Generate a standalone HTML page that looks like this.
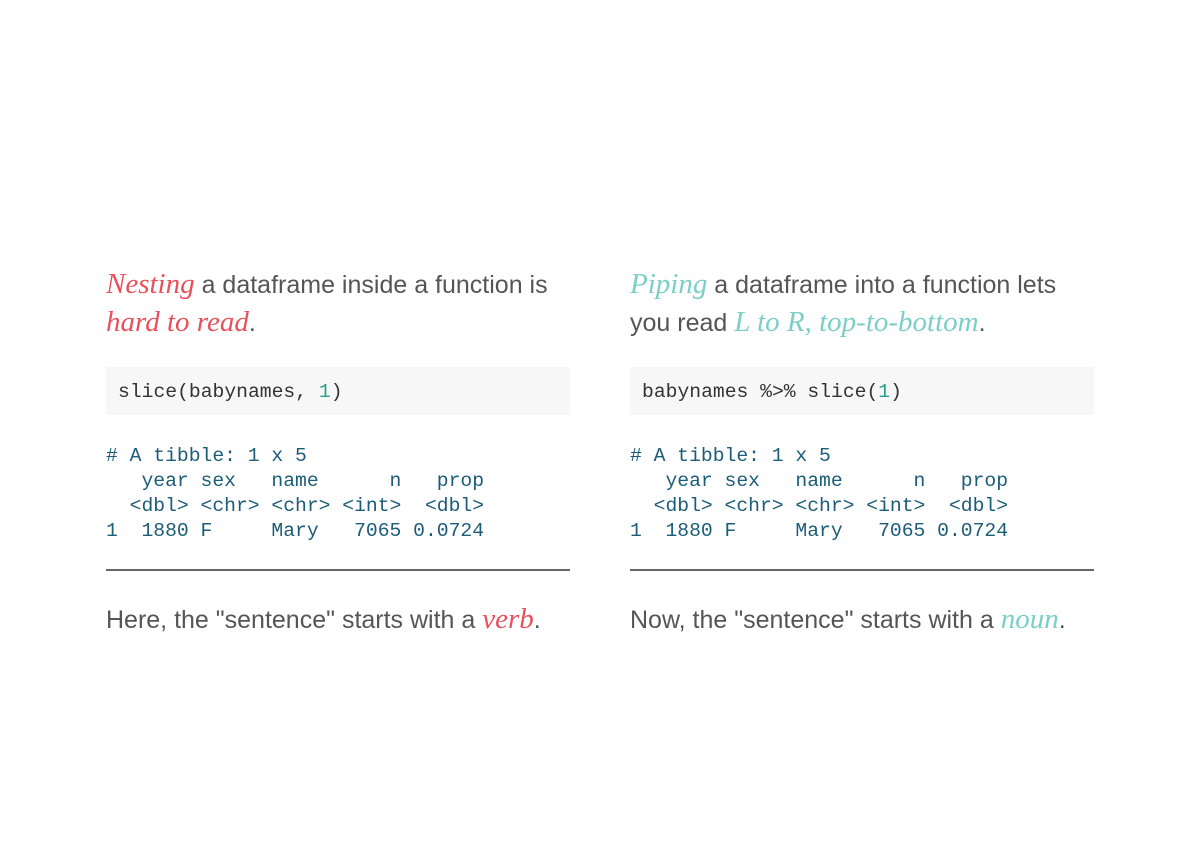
<!DOCTYPE html>
<html><head><meta charset="utf-8"><style>
body{margin:0;width:1200px;height:856px;background:#fff;position:relative;overflow:hidden;font-family:"Liberation Sans",sans-serif;}
.col{position:absolute;top:0;width:464px;}
.t{position:absolute;left:0;font-size:25px;color:#555;white-space:nowrap;line-height:38px;}
.em{font-family:"Liberation Serif",serif;font-style:italic;font-size:29px;}
.r{color:#e8505b}.g{color:#7ccfc6}
.box{position:absolute;left:0;top:367px;width:464px;height:48px;background:#f7f7f7;}
.box pre{margin:0;position:absolute;left:12px;top:14px;font-family:"Liberation Mono",monospace;font-size:19.7px;color:#333;}
.out{position:absolute;left:0;top:444px;margin:0;font-family:"Liberation Mono",monospace;font-size:19.7px;line-height:25px;color:#1c5c78;}
.hr{position:absolute;left:0;top:569px;width:464px;height:2px;background:#666;}
.n{color:#2a9d8f}
</style></head><body>
<div class="col" style="left:106px">
<div class="t" style="top:265px"><span class="em r">Nesting</span> a dataframe inside a function is</div>
<div class="t" style="top:303px"><span class="em r">hard to read</span>.</div>
<div class="box"><pre>slice(babynames, <span class="n">1</span>)</pre></div>
<pre class="out"># A tibble: 1 x 5
   year sex   name      n   prop
  &lt;dbl&gt; &lt;chr&gt; &lt;chr&gt; &lt;int&gt;  &lt;dbl&gt;
1  1880 F     Mary   7065 0.0724</pre>
<div class="hr"></div>
<div class="t" style="top:600px">Here, the "sentence" starts with a <span class="em r">verb</span>.</div>
</div>
<div class="col" style="left:630px">
<div class="t" style="top:265px"><span class="em g">Piping</span> a dataframe into a function lets</div>
<div class="t" style="top:303px">you read <span class="em g">L to R, top-to-bottom</span>.</div>
<div class="box"><pre>babynames %&gt;% slice(<span class="n">1</span>)</pre></div>
<pre class="out"># A tibble: 1 x 5
   year sex   name      n   prop
  &lt;dbl&gt; &lt;chr&gt; &lt;chr&gt; &lt;int&gt;  &lt;dbl&gt;
1  1880 F     Mary   7065 0.0724</pre>
<div class="hr"></div>
<div class="t" style="top:600px">Now, the "sentence" starts with a <span class="em g">noun</span>.</div>
</div>
</body></html>
